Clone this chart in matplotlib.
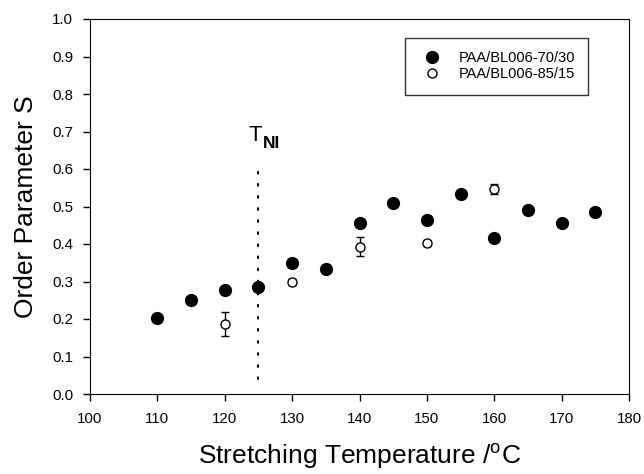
import numpy as np
import matplotlib
matplotlib.use("Agg")
import matplotlib.pyplot as plt

plt.rcParams['font.family'] = ['Liberation Sans', 'DejaVu Sans']
plt.rcParams['mathtext.fontset'] = 'custom'
plt.rcParams['mathtext.rm'] = 'Liberation Sans'
plt.rcParams['mathtext.bf'] = 'Liberation Sans:bold'

# PAA/BL006-70/30 (filled)
temp_70 = [110, 115, 120, 125, 130, 135, 140, 145, 150, 155, 160, 165, 170, 175]
s_70 = [0.202, 0.250, 0.278, 0.285, 0.349, 0.333, 0.456, 0.509, 0.464, 0.533, 0.417, 0.491, 0.456, 0.485]

# PAA/BL006-85/15 (open, with error bars)
temp_85 = [120, 130, 140, 150, 160]
s_85 = [0.186, 0.300, 0.393, 0.402, 0.547]
err_85 = [0.032, 0.008, 0.025, 0.008, 0.013]

t_ni = 125
x_ticks = [100, 110, 120, 130, 140, 150, 160, 170, 180]
y_ticks = [0.0, 0.1, 0.2, 0.3, 0.4, 0.5, 0.6, 0.7, 0.8, 0.9, 1.0]

fig = plt.figure(figsize=(6.44, 4.74), dpi=100)
ax = fig.add_axes([90 / 644, 1 - 394 / 474, 539 / 644, 375 / 474])

ax.plot([t_ni, t_ni], [0.04, 0.61], color='black', linewidth=1.5,
        linestyle=(0, (0.8, 5)), dash_capstyle='round')

ax.plot(temp_70, s_70, 'o', color='black', markersize=8.5, linestyle='none',
        label='PAA/BL006-70/30', zorder=3)
ax.errorbar(temp_85, s_85, yerr=err_85, fmt='none', ecolor='black',
            capsize=3, elinewidth=1, zorder=2)
ax.plot(temp_85, s_85, 'o', mfc='white', mec='black', markersize=6.5, mew=1,
        linestyle='none', label='PAA/BL006-85/15', zorder=3)

# T_NI label, subscript drawn a bit larger than mathtext would
t_lbl = ax.text(123.5, 0.675, 'T', fontsize=16)
ax.annotate('NI', xy=(1, 0), xycoords=t_lbl, xytext=(0.5, -4),
            textcoords='offset points', fontsize=12.5, fontweight='bold',
            va='bottom', ha='left')

ax.set_xlim(100, 180)
ax.set_ylim(0, 1.0)
ax.set_xticks(x_ticks)
ax.set_yticks(y_ticks)
ax.set_yticklabels([f'{v:.1f}' for v in y_ticks])
ax.tick_params(direction='out', length=5, width=1, labelsize=10.8)
ax.tick_params(axis='x', pad=8)
ax.tick_params(axis='y', pad=7)

ax.set_xlabel('Stretching Temperature /$^\\mathrm{o}$C', fontsize=19, labelpad=11)
ax.set_ylabel('Order Parameter S', fontsize=19, labelpad=10)

leg = ax.legend(loc='upper left', bbox_to_anchor=(0.584, 0.949), fontsize=10.5,
                frameon=True, fancybox=False, edgecolor='black', borderpad=0.9,
                handletextpad=0.8, handlelength=2.0, labelspacing=0.15,
                borderaxespad=0)
leg.get_frame().set_linewidth(1)

fig.savefig('out.png', dpi=100)
